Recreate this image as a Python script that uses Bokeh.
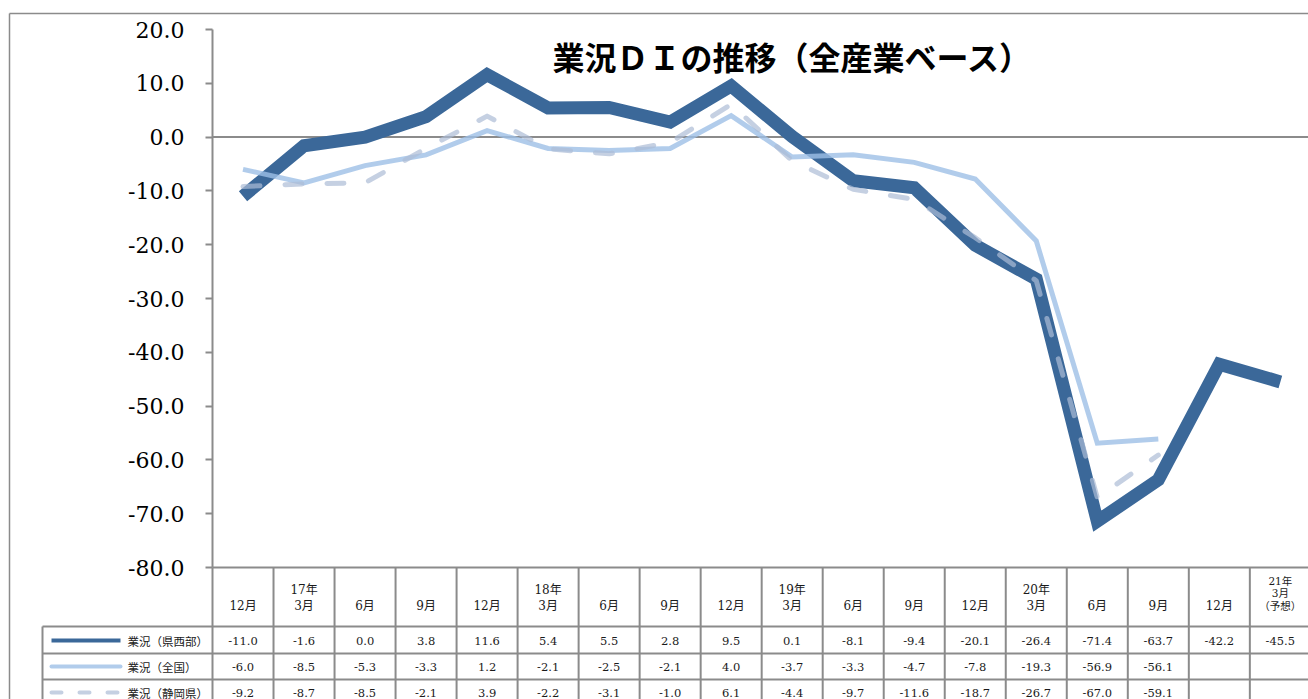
from bokeh.plotting import figure
from bokeh.models import Range1d, LinearAxis, FixedTicker, NumeralTickFormatter, Label
from bokeh.core.properties import value
from bokeh.embed import file_html
from bokeh.resources import INLINE

# ---------------- data ----------------
categories = ["12月", "17年\n3月", "6月", "9月", "12月", "18年\n3月", "6月", "9月",
              "12月", "19年\n3月", "6月", "9月", "12月", "20年\n3月", "6月", "9月",
              "12月", "21年\n3月\n（予想）"]
kensaibu = [-11.0, -1.6, 0.0, 3.8, 11.6, 5.4, 5.5, 2.8, 9.5, 0.1, -8.1, -9.4,
            -20.1, -26.4, -71.4, -63.7, -42.2, -45.5]
zenkoku = [-6.0, -8.5, -5.3, -3.3, 1.2, -2.1, -2.5, -2.1, 4.0, -3.7, -3.3, -4.7,
           -7.8, -19.3, -56.9, -56.1, None, None]
shizuoka = [-9.2, -8.7, -8.5, -2.1, 3.9, -2.2, -3.1, -1.0, 6.1, -4.4, -9.7, -11.6,
            -18.7, -26.7, -67.0, -59.1, None, None]
series_names = ["業況（県西部）", "業況（全国）", "業況（静岡県）"]
y_ticks = [-80, -70, -60, -50, -40, -30, -20, -10, 0, 10, 20]
title_text = "業況ＤＩの推移（全産業ベース）"

# ---------------- layout helpers (pixel geometry of the page) ----------------
W_PX, H_PX = 1308, 699
COL = 61.02      # px per category column
K = 5.38         # px per DI unit
X0 = 212         # page px of the first column's left edge
Y20 = 29         # page py of value 20


def dx(px):
    return (px - X0) / COL


def dy(py):
    return 20 - (py - Y20) / K


GRAY = "#8b8b8b"
DARK = "#3b6899"
LIGHT = "#9dbfe6"
DASHC = "#acbcd6"
SERIF_CJK = "'DejaVu Serif', 'Noto Sans CJK JP'"

p = figure(width=W_PX, height=H_PX, output_backend="svg", toolbar_location=None,
           x_axis_type=None, y_axis_type=None,
           x_range=Range1d(dx(0), dx(W_PX)), y_range=Range1d(dy(H_PX), dy(0)),
           min_border=0, min_border_left=0, min_border_right=0,
           min_border_top=0, min_border_bottom=0)
p.grid.visible = False
p.outline_line_color = None
p.background_fill_color = "white"
p.border_fill_color = "white"

n = len(categories)
xc = [i + 0.5 for i in range(n)]
bottom = dy(H_PX + 5)

# outer chart border
p.segment(x0=[dx(9), dx(9)], y0=[dy(13), dy(13)], x1=[dx(9), dx(1320)], y1=[bottom, dy(13)],
          line_color=GRAY, line_width=1.5)

# zero line and table top line
p.segment(x0=[0, 0], y0=[0, -80], x1=[n + 0.2, n + 0.2], y1=[0, -80], line_color=GRAY, line_width=2)

# table grid
row_lines = [626, 653, 679]
p.segment(x0=[dx(42)] * 3, y0=[dy(r) for r in row_lines], x1=[n + 0.2] * 3, y1=[dy(r) for r in row_lines],
          line_color=GRAY, line_width=2)
vx = list(range(n + 1))
p.segment(x0=vx, y0=[-80] * len(vx), x1=vx, y1=[bottom] * len(vx), line_color=GRAY, line_width=2)
p.segment(x0=[dx(42)], y0=[dy(626)], x1=[dx(42)], y1=[bottom], line_color=GRAY, line_width=2)

# header labels: each line placed separately, bottom line at a common level
groups = {12: ([], [], []), 10.5: ([], [], [])}
for i, c in enumerate(categories):
    lines = c.split("\n")
    k = len(lines)
    size = 12 if k <= 2 else 10.5
    step = 16 if k <= 2 else 12.5
    gx, gy, gt = groups[size]
    for j, line in enumerate(reversed(lines)):
        gx.append(xc[i])
        gy.append(dy(605 - j * step))
        gt.append(line)
for size, (gx, gy, gt) in groups.items():
    p.text(x=gx, y=gy, text=gt, text_align="center", text_baseline="middle",
           text_font=value(SERIF_CJK), text_font_size=f"{size}px", text_color="#1a1a1a")

# value rows
row_centers = [640, 666, 692]
for series, rc in zip([kensaibu, zenkoku, shizuoka], row_centers):
    xs = [xc[i] for i, v in enumerate(series) if v is not None]
    ts = [f"{v:.1f}" for v in series if v is not None]
    p.text(x=xs, y=[dy(rc)] * len(xs), text=ts, text_align="center", text_baseline="middle",
           text_font=value("DejaVu Serif"), text_font_size="11.5px", text_color="#1a1a1a")

# legend samples in table
p.segment(x0=[dx(51)], y0=[dy(640)], x1=[dx(120)], y1=[dy(640)], line_color=DARK, line_width=4)
p.segment(x0=[dx(51)], y0=[dy(666)], x1=[dx(120)], y1=[dy(666)], line_color=LIGHT, line_alpha=0.8,
          line_width=4, line_cap="round")
p.segment(x0=[dx(51)], y0=[dy(692)], x1=[dx(120)], y1=[dy(692)], line_color=DASHC, line_alpha=0.7,
          line_width=4, line_cap="round", line_dash="10 18")
p.text(x=[dx(127)] * 3, y=[dy(r) for r in row_centers], text=series_names, text_align="left",
       text_baseline="middle", text_font=value("Noto Sans CJK JP"), text_font_size="11.5px",
       text_color="#1a1a1a")

# data lines
def clean(s):
    return [float("nan") if v is None else v for v in s]

p.line(xc, kensaibu, line_color=DARK, line_width=13, line_join="miter")
p.line(xc, clean(zenkoku), line_color=LIGHT, line_alpha=0.8, line_width=5, line_join="miter")
p.line(xc, clean(shizuoka), line_color=DASHC, line_alpha=0.7, line_width=5, line_join="round",
       line_cap="round", line_dash="17 25")

# y axis
yaxis = LinearAxis(ticker=FixedTicker(ticks=y_ticks), formatter=NumeralTickFormatter(format="0.0"),
                   bounds=(-80, 20), fixed_location=0)
yaxis.major_label_text_font = "DejaVu Serif"
yaxis.major_label_text_font_size = "22px"
yaxis.major_label_text_color = "#000000"
yaxis.major_label_standoff = 21
yaxis.major_tick_out = 7
yaxis.major_tick_in = 0
yaxis.minor_tick_out = 0
yaxis.minor_tick_in = 0
yaxis.axis_line_color = GRAY
yaxis.axis_line_width = 2
yaxis.major_tick_line_color = GRAY
yaxis.major_tick_line_width = 2
p.add_layout(yaxis, "left")

# title
p.add_layout(Label(x=dx(792), y=dy(55), text=title_text, text_align="center", text_baseline="middle",
                   text_font="Noto Sans CJK JP", text_font_style="bold", text_font_size="32px",
                   text_color="#000000"))

open("out.html", "w").write(file_html(p, INLINE))
